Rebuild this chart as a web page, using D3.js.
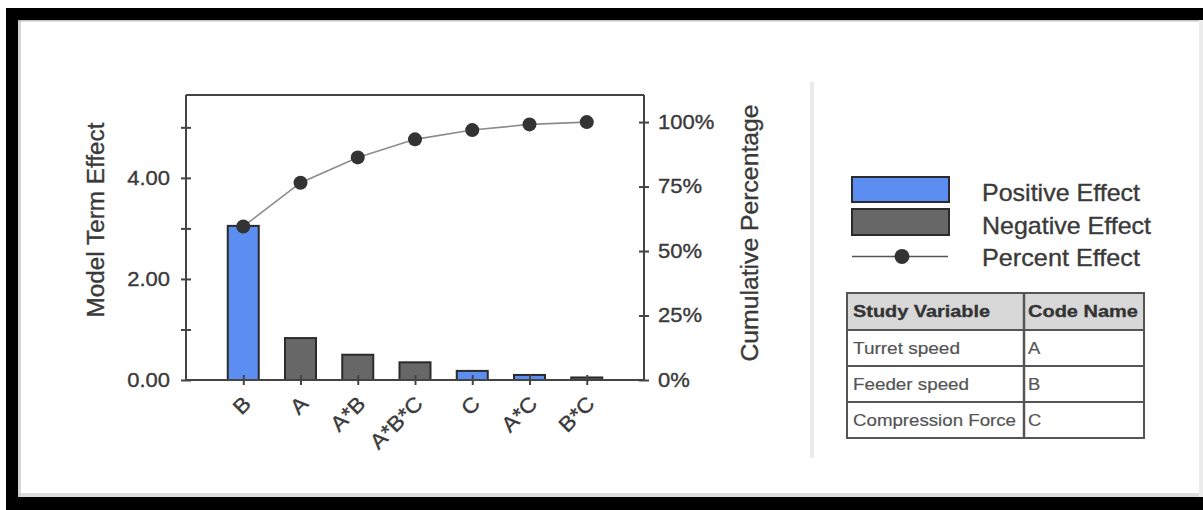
<!DOCTYPE html>
<html>
<head>
<meta charset="utf-8">
<script src="https://cdn.jsdelivr.net/npm/d3@7"></script>
<style>
html,body{margin:0;padding:0;background:#fff;}
svg{display:block;font-family:"Liberation Sans",Arial,sans-serif;}
svg text{stroke:#3a3a3a;stroke-width:0.35px;}
</style>
</head>
<body>
<svg id="chart" width="1203" height="510"></svg>
<script>
// ---- data ----
const categories = ["B", "A", "A*B", "A*B*C", "C", "A*C", "B*C"];
const effects = [3.05, 0.83, 0.50, 0.35, 0.18, 0.10, 0.05];
const effectSigns = ["Positive", "Negative", "Negative", "Negative", "Positive", "Positive", "Negative"];
const cumulativePct = [59.5, 76.5, 86.3, 93.3, 96.9, 99.1, 100];
const leftTicks = [0, 1, 2, 3, 4, 5];
const leftLabeled = [0, 2, 4];
const rightTicks = [0, 25, 50, 75, 100];
const legendLabels = ["Positive Effect", "Negative Effect", "Percent Effect"];
const tableHeader = ["Study Variable", "Code Name"];
const studyVariables = ["Turret speed", "Feeder speed", "Compression Force"];
const codeNames = ["A", "B", "C"];

const svg = d3.select("#chart");
const BLUE = "#5b8ef0", GRAY = "#676767", EDGE = "#2b2b2b", AX = "#444", TXT = "#3a3a3a";

// ---- frame ----
svg.append("rect").attr("x", 6).attr("y", 8).attr("width", 1210).attr("height", 510).attr("fill", "#000");
svg.append("rect").attr("x", 18).attr("y", 20).attr("width", 1190).attr("height", 477).attr("fill", "#fff");
svg.append("rect").attr("x", 18).attr("y", 20).attr("width", 3).attr("height", 477).attr("fill", "#b8b8b8").attr("opacity", 0.6);
svg.append("rect").attr("x", 18).attr("y", 493).attr("width", 1190).attr("height", 4).attr("fill", "#c4c4c4").attr("opacity", 0.6);
svg.append("rect").attr("x", 18).attr("y", 20).attr("width", 1190).attr("height", 1.5).attr("fill", "#999").attr("opacity", 0.6);
svg.append("rect").attr("x", 1199).attr("y", 20).attr("width", 4).attr("height", 477).attr("fill", "#ececec");

// ---- scales ----
const L = 186, R = 644, T = 95, B = 380;
const x = d3.scalePoint().domain(categories).range([L, R]).padding(1);
const yL = d3.scaleLinear().domain([0, 5.64]).range([B, T]);
const yR = d3.scaleLinear().domain([0, 110.5]).range([B, T]);

function stretch(sel, k) {
  sel.each(function () {
    const w = this.getComputedTextLength();
    d3.select(this).attr("textLength", w * k).attr("lengthAdjust", "spacingAndGlyphs");
  });
}

// top border
svg.append("line").attr("x1", L).attr("x2", R).attr("y1", T).attr("y2", T)
  .attr("stroke", AX).attr("stroke-width", 2);

// left axis
const gL = svg.append("g").attr("transform", `translate(${L},0)`)
  .call(d3.axisLeft(yL).tickValues(leftTicks).tickSizeInner(5).tickSizeOuter(0).tickPadding(11)
    .tickFormat(d => leftLabeled.includes(d) ? d3.format(".2f")(d) : ""));
gL.select(".domain").attr("stroke", AX).attr("stroke-width", 2).attr("d", `M0,${T}V${B}`);
gL.selectAll(".tick line").attr("x1", -5).attr("x2", 5).attr("stroke", AX).attr("stroke-width", 2);
gL.selectAll(".tick text").attr("font-size", 20).attr("fill", TXT).attr("font-family", null).call(stretch, 1.1);

// right axis
const gR = svg.append("g").attr("transform", `translate(${R},0)`)
  .call(d3.axisRight(yR).tickValues(rightTicks).tickSizeInner(5).tickSizeOuter(0).tickPadding(9)
    .tickFormat(d => d + "%"));
gR.select(".domain").attr("stroke", AX).attr("stroke-width", 2).attr("d", `M0,${T}V${B}`);
gR.selectAll(".tick line").attr("x1", -5).attr("x2", 5).attr("stroke", AX).attr("stroke-width", 2);
gR.selectAll(".tick text").attr("font-size", 20).attr("fill", TXT).attr("font-family", null).call(stretch, 1.1);

// bars
svg.append("g").selectAll("rect").data(categories).join("rect")
  .attr("x", d => x(d) - 15.5).attr("width", 31)
  .attr("y", (d, i) => yL(effects[i])).attr("height", (d, i) => yL(0) - yL(effects[i]))
  .attr("fill", (d, i) => effectSigns[i] === "Positive" ? BLUE : GRAY)
  .attr("stroke", EDGE).attr("stroke-width", 2);

// bottom axis
const gB = svg.append("g").attr("transform", `translate(0,${B})`)
  .call(d3.axisBottom(x).tickSizeInner(5).tickSizeOuter(0).tickFormat(""));
gB.select(".domain").attr("stroke", AX).attr("stroke-width", 2).attr("d", `M${L},0H${R}`);
gB.selectAll(".tick line").attr("y1", -5).attr("y2", 5).attr("stroke", AX).attr("stroke-width", 2);
svg.append("g").selectAll("text").data(categories).join("text")
  .attr("transform", d => `translate(${x(d) + 9},${B + 25}) rotate(-45)`)
  .attr("text-anchor", "end").attr("font-size", 21).attr("fill", TXT)
  .text(d => d).call(stretch, 1.08);

// cumulative line
svg.append("path").datum(categories)
  .attr("d", d3.line().x(d => x(d)).y((d, i) => yR(cumulativePct[i])))
  .attr("fill", "none").attr("stroke", "#8c8c8c").attr("stroke-width", 1.6);
svg.append("g").selectAll("circle").data(categories).join("circle")
  .attr("cx", d => x(d)).attr("cy", (d, i) => yR(cumulativePct[i])).attr("r", 7)
  .attr("fill", "#333");

// axis titles
svg.append("text").attr("transform", "translate(104,220) rotate(-90)")
  .attr("text-anchor", "middle").attr("font-size", 23).attr("fill", TXT)
  .attr("textLength", 195).attr("lengthAdjust", "spacingAndGlyphs").text("Model Term Effect");
svg.append("text").attr("transform", "translate(758,233) rotate(-90)")
  .attr("text-anchor", "middle").attr("font-size", 23).attr("fill", TXT)
  .attr("textLength", 257).attr("lengthAdjust", "spacingAndGlyphs").text("Cumulative Percentage");

// separator
svg.append("rect").attr("x", 810).attr("y", 82).attr("width", 4).attr("height", 376).attr("fill", "#ebebeb");

// legend
const lg = svg.append("g");
lg.append("rect").attr("x", 852).attr("y", 177).attr("width", 97).attr("height", 25)
  .attr("fill", BLUE).attr("stroke", EDGE).attr("stroke-width", 2);
lg.append("rect").attr("x", 852).attr("y", 209).attr("width", 97).attr("height", 26)
  .attr("fill", GRAY).attr("stroke", EDGE).attr("stroke-width", 2);
lg.append("line").attr("x1", 852).attr("x2", 948).attr("y1", 256.5).attr("y2", 256.5)
  .attr("stroke", "#555").attr("stroke-width", 1.6);
lg.append("circle").attr("cx", 902).attr("cy", 256.5).attr("r", 7.5).attr("fill", "#333");
const legendW = [158, 169, 158];
lg.selectAll("text").data(legendLabels).join("text")
  .attr("x", 982).attr("y", (d, i) => 201 + i * 32.5)
  .attr("font-size", 24).attr("fill", TXT)
  .attr("textLength", (d, i) => legendW[i]).attr("lengthAdjust", "spacingAndGlyphs")
  .text(d => d);

// table
const tX0 = 847, tX1 = 1024, tX2 = 1144;
const rowY = [293, 330, 366, 402, 438];
const tb = svg.append("g");
tb.append("rect").attr("x", tX0).attr("y", rowY[0]).attr("width", tX2 - tX0).attr("height", rowY[1] - rowY[0]).attr("fill", "#d8d8d8");
tb.append("rect").attr("x", tX0).attr("y", rowY[0]).attr("width", tX2 - tX0).attr("height", rowY[4] - rowY[0])
  .attr("fill", "none").attr("stroke", "#555").attr("stroke-width", 2);
rowY.slice(1, 4).forEach(yv => tb.append("line").attr("x1", tX0).attr("x2", tX2).attr("y1", yv).attr("y2", yv)
  .attr("stroke", "#555").attr("stroke-width", 2));
tb.append("line").attr("x1", tX1).attr("x2", tX1).attr("y1", rowY[0]).attr("y2", rowY[4])
  .attr("stroke", "#555").attr("stroke-width", 2.5);
const headW = [137, 110];
tb.selectAll("text.h").data(tableHeader).join("text").attr("class", "h")
  .attr("x", (d, i) => i === 0 ? 853 : 1028).attr("y", 317)
  .attr("font-size", 17).attr("font-weight", "bold").attr("fill", "#333")
  .attr("textLength", (d, i) => headW[i]).attr("lengthAdjust", "spacingAndGlyphs").text(d => d);
const varW = [107, 116, 163];
tb.selectAll("text.v").data(studyVariables).join("text").attr("class", "v")
  .attr("x", 853).attr("y", (d, i) => 354 + i * 36)
  .attr("font-size", 16).attr("fill", "#555").style("stroke", "#555").style("stroke-width", "0.2px")
  .attr("textLength", (d, i) => varW[i]).attr("lengthAdjust", "spacingAndGlyphs").text(d => d);
tb.selectAll("text.c").data(codeNames).join("text").attr("class", "c")
  .attr("x", 1028).attr("y", (d, i) => 354 + i * 36)
  .attr("font-size", 16).attr("fill", "#555").style("stroke", "#555").style("stroke-width", "0.2px")
  .text(d => d).call(stretch, 1.15);
</script>
</body>
</html>
